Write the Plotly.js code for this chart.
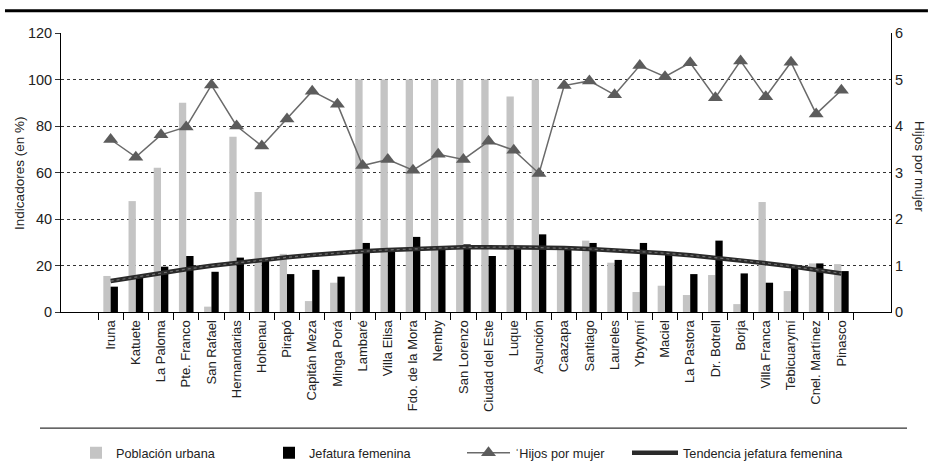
<!DOCTYPE html>
<html><head><meta charset="utf-8">
<script src="https://cdn.plot.ly/plotly-3.0.1.min.js"></script>
<style>html,body{margin:0;padding:0;background:#fff}#chart{width:929px;height:470px}</style>
</head><body><div id="chart"></div>
<script>
const categories = ["Iruna","Katuete","La Paloma","Pte. Franco","San Rafael","Hernandarias","Hohenau","Pirapó","Capitán Meza","Minga Porá","Lambaré","Villa Elisa","Fdo. de la Mora","Nemby","San Lorenzo","Ciudad del Este","Luque","Asunción","Caazapa","Santiago","Laureles","Ybytymí","Maciel","La Pastora","Dr. Botrell","Borja","Villa Franca","Tebicuarymí","Cnel. Martínez","Pinasco"];
const poblacionUrbana = [15.5,47.7,62,90,2.3,75.4,51.6,25,4.7,12.6,100,100,100,100,100,100,92.7,100,27,30.7,21.2,8.6,11.3,7.3,15.9,3.4,47.3,9.0,20.9,20.6];
const jefaturaFemenina = [10.9,15.2,19.5,24.1,17.3,23.4,22.8,16.3,18.1,15.2,29.7,27.4,32.3,27.4,29.1,24.1,27.4,33.4,27,29.7,22.4,29.7,25.2,16.3,30.7,16.6,12.6,19.9,20.9,17.6];
const hijosPorMujer = [3.71,3.33,3.81,3.98,4.88,4.0,3.57,4.15,4.75,4.47,3.15,3.28,3.05,3.39,3.28,3.67,3.48,2.98,4.87,4.97,4.67,5.3,5.06,5.36,4.61,5.4,4.63,5.37,4.26,4.77];
const tendenciaJefatura = [13.3,15.1,16.8,18.4,19.9,21.2,22.4,23.5,24.5,25.4,26.1,26.7,27.2,27.5,27.8,27.9,27.9,27.7,27.5,27.1,26.6,26.0,25.3,24.4,23.4,22.3,21.0,19.7,18.2,16.6];
const yTickVals = [0,20,40,60,80,100,120];
const y2TickVals = [0,1,2,3,4,5,6];

const FONT = "Liberation Sans, Arial, sans-serif";
const traces = [
  {type:"bar", name:"Población urbana", x:categories, y:poblacionUrbana, marker:{color:"#c4c4c4"}, legend:"legend"},
  {type:"bar", name:"Jefatura femenina", x:categories, y:jefaturaFemenina, marker:{color:"#000000"}, legend:"legend2"},
  {type:"scatter", mode:"lines", name:"Tendencia jefatura femenina", x:categories, y:tendenciaJefatura, line:{color:"#2a2a2a", width:4.5}, legend:"legend4"},
  {type:"scatter", mode:"lines", name:"Tendencia jefatura femenina", x:categories, y:tendenciaJefatura, line:{color:"#6e6e6e", width:1.2, dash:"dot"}, showlegend:false, hoverinfo:"skip"},
  {type:"scatter", mode:"lines+markers", name:"ˈHijos por mujer", x:categories, y:hijosPorMujer, yaxis:"y2", line:{color:"#6a6a6a", width:1.5}, marker:{symbol:"triangle-up", size:13, color:"#5c5c5c"}, legend:"legend3"}
];

const legBase = {orientation:"h", xref:"container", yref:"container", yanchor:"middle", y:1-453/470, xanchor:"left", font:{family:FONT, size:12.7, color:"#222"}, bgcolor:"rgba(0,0,0,0)", tracegroupgap:0};
const layout = {
  width:929, height:470,
  margin:{l:61, r:38, t:33, b:158, autoexpand:false},
  paper_bgcolor:"#fff", plot_bgcolor:"#fff",
  barmode:"group", bargap:0.42, bargroupgap:0,
  font:{family:FONT, size:13, color:"#222"},
  xaxis:{type:"category", tickangle:-90, showline:true, linecolor:"#000", linewidth:1, ticks:"outside", tickson:"boundaries", ticklen:7, tickcolor:"#000", ticklabelstandoff:2, showgrid:false, tickfont:{family:FONT, size:13, color:"#222"}, automargin:false},
  yaxis:{range:[0,120], tickvals:yTickVals, showline:true, linecolor:"#000", linewidth:1, ticks:"outside", ticklen:5, tickcolor:"#333", showgrid:true, gridcolor:"#333", griddash:"dot", gridwidth:1, zeroline:false, tickfont:{family:FONT, size:14.5, color:"#222"}, automargin:false},
  yaxis2:{overlaying:"y", side:"right", range:[0,6], tickvals:y2TickVals, showline:true, linecolor:"#000", linewidth:1, ticks:"", showgrid:false, zeroline:false, tickfont:{family:FONT, size:14.5, color:"#222"}, automargin:false},
  showlegend:true,
  legend:Object.assign({}, legBase, {x:76/929}),
  legend2:Object.assign({}, legBase, {x:269/929}),
  legend3:Object.assign({}, legBase, {x:462/929, itemwidth:43}),
  legend4:Object.assign({}, legBase, {x:627/929, itemwidth:46}),
  annotations:[
    {text:"Indicadores (en %)", xref:"paper", yref:"paper", x:(20-61)/830, y:0.495, xanchor:"center", yanchor:"middle", textangle:-90, showarrow:false, font:{family:FONT, size:13.5, color:"#222"}},
    {text:"Hijos por mujer", xref:"paper", yref:"paper", x:(920-61)/830, y:0.523, xanchor:"center", yanchor:"middle", textangle:90, showarrow:false, font:{family:FONT, size:13.5, color:"#222"}}
  ],
  shapes:[
    {type:"line", xref:"paper", yref:"paper", x0:-0.0253, x1:1.0193, y0:-0.416, y1:-0.416, line:{color:"#333", width:1.2}},
    {type:"line", xref:"paper", yref:"paper", x0:-0.0675, x1:1.0445, y0:1.08, y1:1.08, line:{color:"#000", width:3}}
  ]
};
Plotly.newPlot("chart", traces, layout, {displayModeBar:false, staticPlot:true});
</script></body></html>
